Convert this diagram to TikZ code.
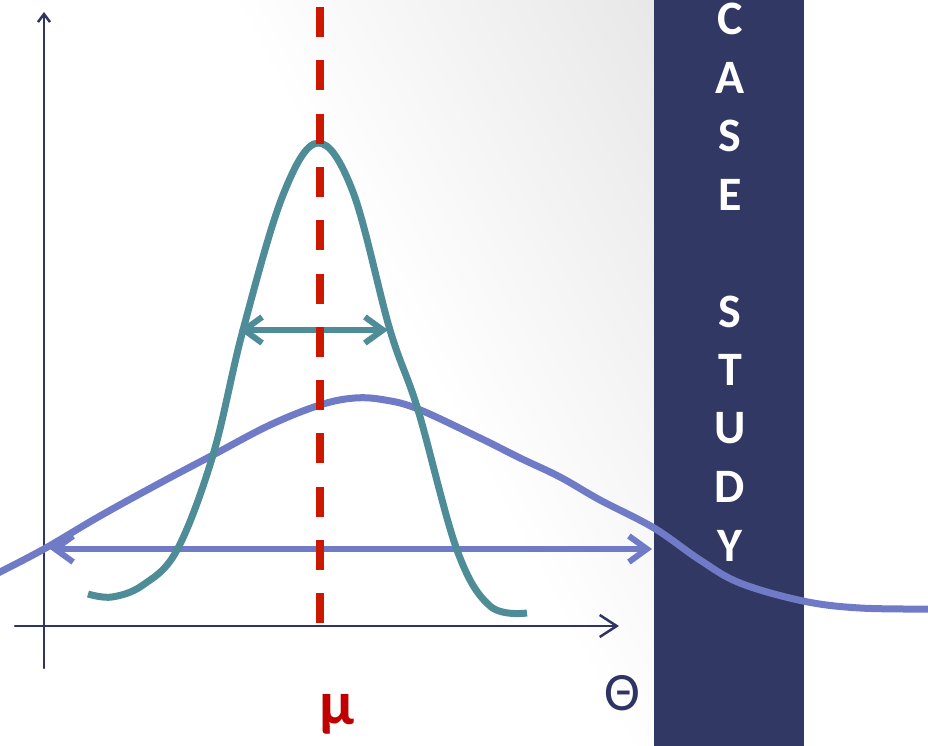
\documentclass[tikz,border=0pt]{standalone}
\usepackage{fontspec}
\setmainfont{Carlito}
\usepackage{tikz}
\usetikzlibrary{arrows.meta}

\definecolor{axisblue}{RGB}{46,52,100}
\definecolor{panelblue}{RGB}{50,56,100}
\definecolor{narrowteal}{RGB}{78,140,152}
\definecolor{widepurple}{RGB}{112,123,200}
\definecolor{dashred}{RGB}{204,24,0}
\definecolor{mured}{RGB}{192,0,0}
\definecolor{bggray}{RGB}{232,232,232}

\begin{document}
\begin{tikzpicture}[
  x=1pt,y=-1pt,
  axis/.style={draw=axisblue,line width=2.5pt,line cap=round},
  narrow/.style={draw=narrowteal,line width=7pt},
  wide/.style={draw=widepurple,line width=7pt},
  spread/.style={line width=6pt,line cap=round,
    {Straight Barb[length=18pt,width=26pt]}-{Straight Barb[length=18pt,width=26pt]}},
  meanline/.style={draw=dashred,line width=7.5pt,dash pattern=on 30pt off 23.3pt},
  letter/.style={text=white,inner sep=0pt,font=\fontsize{48}{48}\selectfont\bfseries},
  lbl/.style={inner sep=0pt}
]
\useasboundingbox (0,0) rectangle (928,746);
% background, fading to grey towards the top right
\begin{scope}
  \clip (0,0) rectangle (654,746);
  \begin{scope}[shift={(0,746)},rotate=28]
    \foreach \k [evaluate=\k as \p using 100*\k/23,
                 evaluate=\k as \u using 545+16*\k] in {1,...,23}
      \fill[bggray!\p!white] (\u,-1500) rectangle (1500,1500);
  \end{scope}
\end{scope}

% side panel
\fill[panelblue] (654,0) rectangle (804,746);
\foreach \l [count=\i from 0] in {C,A,S,E,{},S,T,U,D,Y}
  \node[letter] (l\i) at (730,19+58.5*\i) {\l};

% axes
\coordinate (ybot) at (44,668);
\coordinate (ytop) at (44,12);
\coordinate (xleft) at (15,626);
\coordinate (xright) at (619,626);
\draw[axis,-{Straight Barb[length=8pt,width=12pt]}] (ybot) -- (ytop);
\draw[axis,-{Straight Barb[length=17pt,width=22pt]}] (xleft) -- (xright);

% wide distribution
\draw[wide] plot[smooth,tension=0.6] coordinates {(-4,574) (44,549) (100,516) (160,483)
  (213,455) (270,425) (320,405) (355,398) (385,400) (418,409) (480,438) (520,458)
  (560,477) (600,500) (654,528) (700,560) (740,583) (803,601) (860,608) (932,609)};
\coordinate (wl) at (50,549);
\coordinate (wr) at (652,549);
\draw[spread,widepurple] (wl) -- (wr);

% narrow distribution
\draw[narrow] plot[smooth,tension=0.6] coordinates {(88,594) (112,597) (143,585)
  (177,550) (213,455) (243,330) (283,195) (318,143) (353,192) (390,330)
  (418,410) (457,550) (490,606) (527,613)};
\coordinate (nl) at (239,330);
\coordinate (nr) at (388,330);
\draw[spread,narrowteal] (nl) -- (nr);

% mean
\coordinate (mtop) at (320,7);
\coordinate (mbot) at (320,646);
\draw[meanline] (mtop) -- (mbot);
\node[lbl,text=mured,font=\fontsize{62}{62}\selectfont\bfseries] (mu) at (337,714) {μ};
\node[lbl,text=axisblue,font=\fontsize{54}{54}\selectfont] (theta) at (622,693) {Θ};
\end{tikzpicture}
\end{document}
